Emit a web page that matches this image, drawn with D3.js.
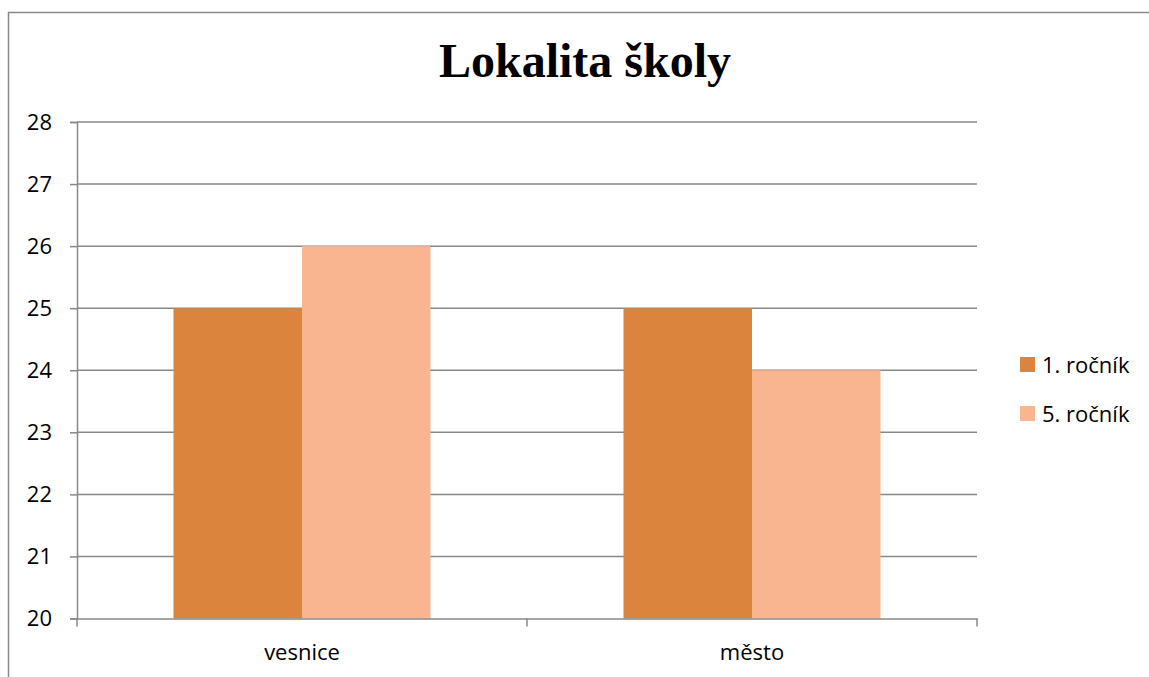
<!DOCTYPE html>
<head>
    <meta charset="utf-8">
    <style>
        body { margin: 0; background: #fff; overflow: hidden; }
        text { font-family: "Open Sans", "Liberation Sans", sans-serif; fill: #000; }
    </style>
</head>
<body>
    <div id="graph"></div>
    <script src="https://d3js.org/d3.v7.min.js"></script>
    <script>
        const WIDTH = 1149;
        const HEIGHT = 677;
        const categories = ["vesnice", "město"];
        const series = ["1. ročník", "5. ročník"];
        const values1 = [25, 25];
        const values5 = [26, 24];
        const yTicks = [20, 21, 22, 23, 24, 25, 26, 27, 28];
        const colors = ["#DB843D", "#F9B590"];

        const plot = { left: 77, right: 977, top: 122, bottom: 618.5 };

        const svg = d3.select("#graph").append("svg")
            .attr("width", WIDTH).attr("height", HEIGHT)
            .style("display", "block");

        // marco exterior
        svg.append("rect")
            .attr("x", 8.5).attr("y", 12.5)
            .attr("width", WIDTH + 20).attr("height", HEIGHT + 20)
            .attr("fill", "none").attr("stroke", "#888").attr("stroke-width", 1.5);

        const x0 = d3.scaleBand().domain(categories).range([plot.left, plot.right]);
        const x1 = d3.scaleBand().domain(series).range([96.5, x0.bandwidth() - 96.5]);
        const y = d3.scaleLinear().domain([20, 28]).range([plot.bottom, plot.top]);

        // rejilla
        svg.append("g").selectAll("line").data(yTicks.slice(1)).enter().append("line")
            .attr("x1", plot.left).attr("x2", plot.right)
            .attr("y1", d => y(d)).attr("y2", d => y(d))
            .attr("stroke", "#888").attr("stroke-width", 1.5);

        // barras
        const rows = categories.map((c, i) => ({ cat: c, vals: [values1[i], values5[i]] }));
        svg.append("g").selectAll("g").data(rows).enter().append("g")
            .attr("transform", d => `translate(${x0(d.cat)},0)`)
            .selectAll("rect").data(d => d.vals.map((v, j) => ({ s: series[j], v, j }))).enter().append("rect")
            .attr("x", d => x1(d.s)).attr("width", x1.bandwidth())
            .attr("y", d => y(d.v)).attr("height", d => y(20) - y(d.v))
            .attr("fill", d => colors[d.j]);

        // eje Y
        const yAxis = svg.append("g").attr("transform", `translate(${plot.left},0)`)
            .call(d3.axisLeft(y).tickValues(yTicks).tickSize(7).tickPadding(18));
        yAxis.select(".domain").attr("stroke", "#888").attr("stroke-width", 1.5);
        yAxis.selectAll(".tick line").attr("stroke", "#888").attr("stroke-width", 1.5);
        yAxis.selectAll("text").attr("font-size", 22).attr("font-family", "Open Sans");

        // eje X
        const xAxis = svg.append("g").attr("transform", `translate(0,${plot.bottom})`)
            .call(d3.axisBottom(x0).tickSize(0).tickPadding(26));
        xAxis.select(".domain").attr("stroke", "#888").attr("stroke-width", 1.5);
        xAxis.selectAll("text").attr("font-size", 22).attr("font-family", "Open Sans");
        svg.append("g").selectAll("line").data([plot.left, x0("město"), plot.right]).enter().append("line")
            .attr("x1", d => d).attr("x2", d => d)
            .attr("y1", plot.bottom).attr("y2", plot.bottom + 8)
            .attr("stroke", "#888").attr("stroke-width", 1.5);

        // título
        svg.append("text")
            .attr("x", 585).attr("y", 77)
            .attr("text-anchor", "middle")
            .style("font-family", "'Liberation Serif', serif")
            .style("font-weight", "bold")
            .style("font-size", "48px")
            .text("Lokalita školy");

        // leyenda
        const legend = svg.append("g").selectAll("g").data(series).enter().append("g")
            .attr("transform", (d, i) => `translate(1020,${357 + i * 49})`);
        legend.append("rect").attr("width", 15).attr("height", 15).attr("fill", (d, i) => colors[i]);
        legend.append("text").attr("x", 22).attr("y", 8).attr("dy", "0.35em")
            .attr("font-size", 22).text(d => d);
    </script>
</body>
</html>
